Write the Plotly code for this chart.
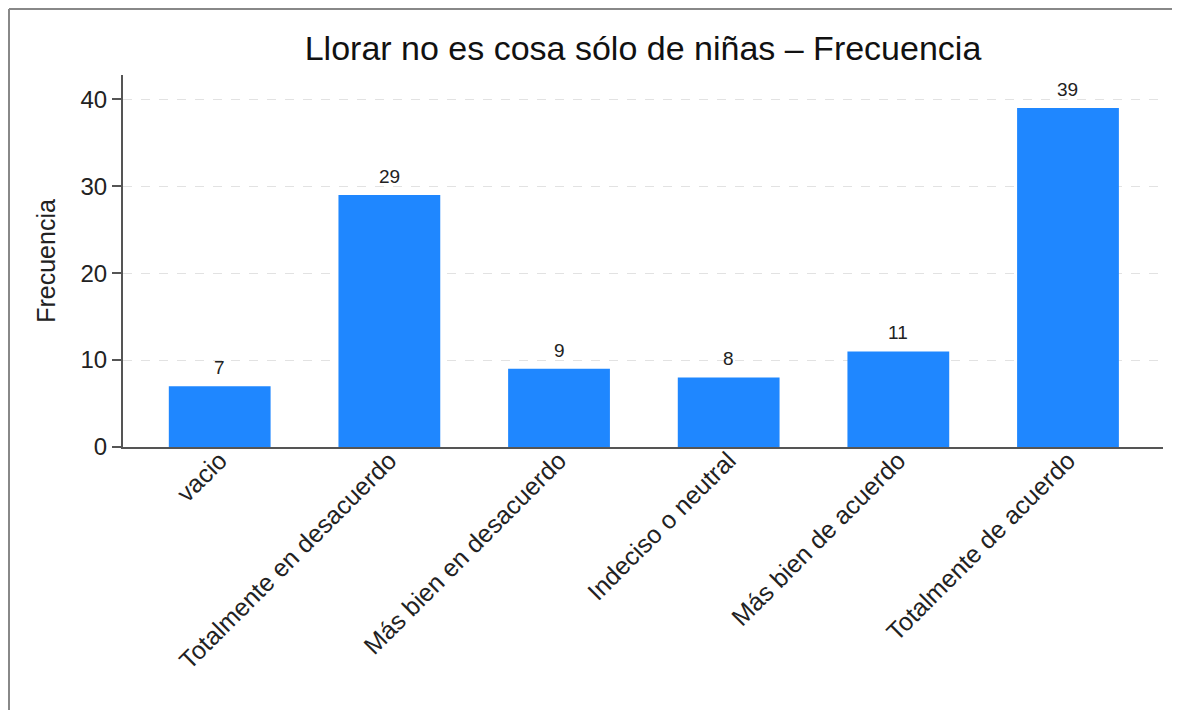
import plotly.graph_objects as go

categories = ["vacio", "Totalmente en desacuerdo", "Más bien en desacuerdo",
              "Indeciso o neutral", "Más bien de acuerdo", "Totalmente de acuerdo"]
values = [7, 29, 9, 8, 11, 39]
y_ticks = [0, 10, 20, 30, 40]

title_text = "Llorar no es cosa sólo de niñas – Frecuencia"
y_title = "Frecuencia"

FONT = "Liberation Sans, Arial, Helvetica, sans-serif"
W, H = 1172, 702
ML, MR, MT, MB = 115, 17, 67, 263
PW, PH = W - ML - MR, H - MT - MB

fig = go.Figure()
fig.add_trace(go.Bar(
    x=list(range(len(categories))), y=values,
    width=0.6,
    marker=dict(color="#1f87ff", line=dict(width=0)),
    hoverinfo="skip",
))

for i, v in enumerate(values):
    fig.add_annotation(x=i, y=v, text=str(v), showarrow=False,
                       yanchor="bottom", yshift=6,
                       font=dict(family=FONT, size=19, color="#222222"))

# outer frame (left and top edges only visible in the reference)
fx0 = (1 - ML) / PW
fy1 = (MT + PH - 1) / PH
fig.add_shape(type="line", xref="paper", yref="paper",
              x0=fx0, x1=fx0, y0=-(H + 50 - MT - PH) / PH, y1=fy1,
              line=dict(color="#888888", width=2), layer="below")
fig.add_shape(type="line", xref="paper", yref="paper",
              x0=fx0, x1=(W + 50 - ML) / PW, y0=fy1, y1=fy1,
              line=dict(color="#888888", width=2), layer="below")

fig.update_layout(
    width=W, height=H,
    margin=dict(l=ML, r=MR, t=MT, b=MB),
    paper_bgcolor="white", plot_bgcolor="white",
    showlegend=False,
    title=dict(text=title_text, x=(ML + PW / 2) / W, xanchor="center",
               y=1 - 40 / H, yanchor="middle",
               font=dict(family=FONT, size=34, color="#111111")),
    font=dict(family=FONT, color="#222222"),
    bargap=0.4,
)
fig.update_xaxes(
    range=[-0.57, 5.56],
    tickmode="array", tickvals=list(range(len(categories))), ticktext=categories,
    tickangle=-45, tickfont=dict(family=FONT, size=25, color="#222222"),
    ticklabelstandoff=-13,
    showgrid=False, showline=True, linecolor="#555555", linewidth=2,
    ticks="", zeroline=False,
)
fig.update_yaxes(
    range=[0, 42.8],
    tickmode="array", tickvals=y_ticks,
    tickfont=dict(family=FONT, size=24, color="#222222"),
    ticks="outside", ticklen=9, tickcolor="#555555", tickwidth=1.5,
    showline=True, linecolor="#555555", linewidth=2,
    showgrid=True, gridcolor="#e2e2e2", griddash="dash", gridwidth=1,
    zeroline=False,
    title=dict(text=y_title, font=dict(family=FONT, size=25, color="#222222"), standoff=18),
)

fig.write_html("out.html")
